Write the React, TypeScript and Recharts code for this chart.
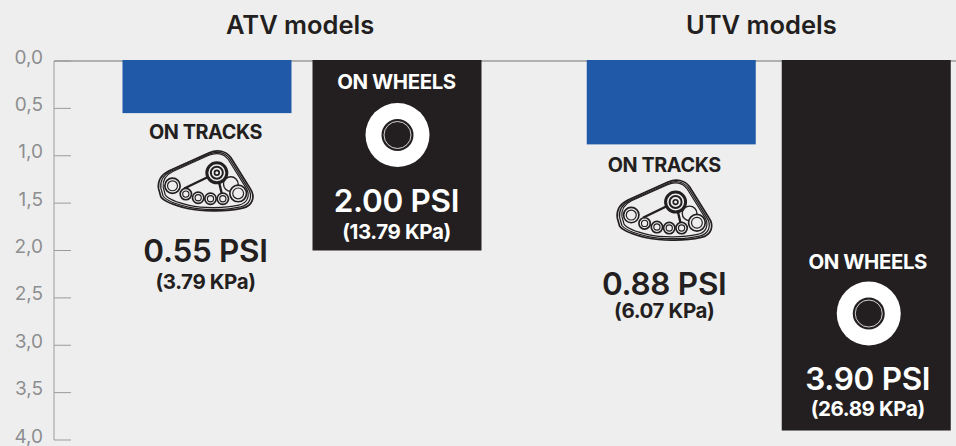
import { BarChart, Bar, XAxis, YAxis } from 'recharts'

const groups = ['ATV models', 'UTV models']
const tracksPsi = [0.55, 0.88]
const wheelsPsi = [2.0, 3.9]
const tracksKpa = [3.79, 6.07]
const wheelsKpa = [13.79, 26.89]
const yTicks = [0, 0.5, 1, 1.5, 2, 2.5, 3, 3.5, 4]

const chartData = groups.map((name, i) => ({
  name,
  tracks: tracksPsi[i],
  wheels: wheelsPsi[i],
  tracksKpa: tracksKpa[i],
  wheelsKpa: wheelsKpa[i],
}))

const BG = '#eeeeee'
const BLUE = '#2059a8'
const DARK = '#231f20'
const GREY_TEXT = '#8d8e90'
const GREY_LINE = '#9a9b9e'
const FONT = 'Inter, "Liberation Sans", sans-serif'

// label offsets from the bar's bottom edge, one entry per group
const tracksLayout = [
  { nudge: 1.25, title: 26, icon: 68, psi: 149, kpa: 176, dx: -1.5 },
  { nudge: -1.25, title: 28, icon: 66, psi: 151, kpa: 174, dx: -7 },
]
const wheelsLayout = [
  { nudge: -1.25, title: -162, icon: -115.5, psi: -39, kpa: -12, dx: -0.5 },
  { nudge: 1.25, title: -162, icon: -117, psi: -41, kpa: -15, dx: 1.5 },
]
const titleShift = [-1.5, -7]

function TrackIcon({ cx, cy }: { cx: number; cy: number }) {
  const outline =
    'M483 565 C480 540 495 522 515 512 L635 458 C660 447 685 452 700 472 L758 565 C775 590 765 618 735 624 C690 634 620 636 570 625 C540 618 500 605 490 590 Z'
  const bigWheels = [
    [525, 557, 23],
    [722, 580, 25],
  ]
  const smallWheels = [
    [565, 582, 17],
    [602, 593, 17],
    [639, 596, 17],
    [676, 596, 17],
  ]
  return (
    <g transform={`translate(${cx} ${cy}) scale(0.3333) translate(-624 -543)`} fill="none" stroke={DARK}>
      <path d={outline} strokeWidth={5} fill={BG} />
      <path d={outline} strokeWidth={4} transform="translate(624 543) scale(0.95) translate(-624 -543)" />
      <path d={outline} strokeWidth={4} transform="translate(624 543) scale(0.9) translate(-624 -544)" />
      <path d="M560 565 L658 518 L675 590 M658 518 L720 560" strokeWidth={7} />
      <circle cx={700} cy={552} r={22} fill={BG} strokeWidth={4} />
      <circle cx={658} cy={518} r={30} fill={BG} strokeWidth={9} />
      <circle cx={658} cy={518} r={18} strokeWidth={6} />
      <circle cx={658} cy={518} r={7} strokeWidth={5} />
      {bigWheels.map(([x, y, r]) => (
        <g key={x}>
          <circle cx={x} cy={y} r={r} fill={BG} strokeWidth={5} />
          <circle cx={x} cy={y} r={r * 0.65} strokeWidth={3.5} />
        </g>
      ))}
      {smallWheels.map(([x, y, r]) => (
        <g key={x}>
          <circle cx={x} cy={y} r={r} fill={BG} strokeWidth={5} />
          <circle cx={x} cy={y} r={r * 0.55} strokeWidth={3.5} />
        </g>
      ))}
    </g>
  )
}

function BarLabels({ cx, bottom, color, layout, psi, kpa, title, titleSize, children }: any) {
  const tx = cx + layout.dx
  return (
    <g fontFamily={FONT} fill={color} textAnchor="middle">
      <text x={tx} y={bottom + layout.title} fontSize={titleSize} fontWeight={700} letterSpacing={-0.4}>
        {title}
      </text>
      {children}
      <text x={tx} y={bottom + layout.psi} fontSize={31.5} fontWeight={600} letterSpacing={-0.3}>
        {psi.toFixed(2)} PSI
      </text>
      <text x={tx} y={bottom + layout.kpa} fontSize={20.5} fontWeight={700} letterSpacing={-0.4}>
        ({kpa.toFixed(2)} KPa)
      </text>
    </g>
  )
}

// the y axis is reversed, so a bar's height comes through negative
function barBox({ x, y, width, height }: any) {
  const top = Math.min(y, y + height)
  const bottom = Math.max(y, y + height)
  return { x, top, bottom, width }
}

function TracksBar(props: any) {
  const { index, payload } = props
  const { x, top, bottom, width } = barBox(props)
  const layout = tracksLayout[index]
  const left = x + layout.nudge
  return (
    <g>
      <rect x={left} y={top - 1} width={width} height={bottom - top + 1} fill={BLUE} />
      <BarLabels
        cx={left + width / 2}
        bottom={bottom}
        color={DARK}
        layout={layout}
        psi={payload.tracks}
        kpa={payload.tracksKpa}
        title="ON TRACKS"
        titleSize={19.8}
      >
        <TrackIcon cx={left + width / 2 + layout.dx} cy={bottom + layout.icon} />
      </BarLabels>
    </g>
  )
}

function WheelsBar(props: any) {
  const { index, payload } = props
  const { x, top, bottom, width } = barBox(props)
  const layout = wheelsLayout[index]
  const left = x + layout.nudge
  const cx = left + width / 2
  const cy = bottom + layout.icon
  const iconX = cx + layout.dx + 1
  return (
    <g>
      <rect x={left} y={top - 1} width={width} height={bottom - top + 1} fill={DARK} />
      <BarLabels
        cx={cx}
        bottom={bottom}
        color="#ffffff"
        layout={layout}
        psi={payload.wheels}
        kpa={payload.wheelsKpa}
        title="ON WHEELS"
        titleSize={20.4}
      >
        <circle cx={iconX} cy={cy} r={32} fill="#ffffff" />
        <circle cx={iconX} cy={cy} r={16} fill={DARK} />
        <circle cx={iconX} cy={cy} r={13.5} fill={DARK} stroke="#ffffff" strokeWidth={0.8} />
      </BarLabels>
    </g>
  )
}

function GroupTick({ x, payload, index }: any) {
  return (
    <text
      x={x + titleShift[index]}
      y={34}
      textAnchor="middle"
      fontFamily={FONT}
      fontSize={25.5}
      fontWeight={600}
      fill={DARK}
    >
      {payload.value}
    </text>
  )
}

function PressureTick({ y, payload }: any) {
  return (
    <g>
      <line x1={54} x2={71} y1={y} y2={y} stroke={GREY_LINE} strokeWidth={1} />
      <text x={43} y={y + 2.5} textAnchor="end" fontFamily={FONT} fontSize={19} fill={GREY_TEXT}>
        {payload.value.toFixed(1).replace('.', ',')}
      </text>
    </g>
  )
}

export default function App() {
  return (
    <div style={{ position: 'absolute', left: 0, top: 0, width: 956, height: 446, overflow: 'hidden', background: BG }}>
      <BarChart
        width={956}
        height={446}
        data={chartData}
        margin={{ top: 31, right: 0, bottom: 6, left: 0 }}
        barSize={169}
        barGap={23.5}
        barCategoryGap={0}
      >
        <XAxis
          dataKey="name"
          xAxisId={0}
          orientation="top"
          height={30}
          padding={{ left: 14.25, right: -45.75 }}
          tickLine={false}
          axisLine={{ stroke: GREY_LINE, strokeWidth: 1.5 }}
          tick={<GroupTick />}
          interval={0}
          zIndex={0}
        />
        <YAxis
          width={54}
          reversed
          domain={[0, 4]}
          ticks={yTicks}
          interval={0}
          tickLine={false}
          axisLine={{ stroke: GREY_LINE, strokeWidth: 1 }}
          tick={<PressureTick />}
        />
        <Bar dataKey="tracks" isAnimationActive={false} shape={<TracksBar />} />
        <Bar dataKey="wheels" isAnimationActive={false} shape={<WheelsBar />} />
      </BarChart>
    </div>
  )
}
